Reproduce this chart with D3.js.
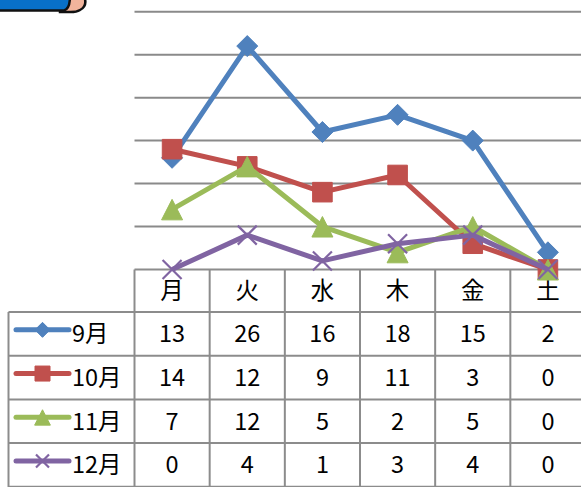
<!DOCTYPE html>
<html>
<head>
<meta charset="utf-8">
<script src="https://cdn.jsdelivr.net/npm/d3@7"></script>
<style>
  body { margin: 0; background: #fff; }
  svg { display: block; }
  text { font-family: "Noto Sans CJK JP", "Noto Sans", sans-serif; fill: #000; }
</style>
</head>
<body>
<div id="chart"></div>
<script>
// Data
var days = ['月', '火', '水', '木', '金', '土'];
var seriesNames = ['9月', '10月', '11月', '12月'];
var sep = [13, 26, 16, 18, 15, 2];
var oct = [14, 12, 9, 11, 3, 0];
var nov = [7, 12, 5, 2, 5, 0];
var dec = [0, 4, 1, 3, 4, 0];
var gridTicks = [0, 5, 10, 15, 20, 25, 30];

var width = 581,
    height = 487;

var colors = ['#4F81BD', '#C0504D', '#9BBB59', '#8064A2'];
var markerKinds = ['diamond', 'square', 'triangle', 'x'];
var allSeries = [sep, oct, nov, dec];

var svg = d3.select('#chart').append('svg')
    .attr('width', width)
    .attr('height', height);

// Scales
var x = d3.scaleBand().domain(days).range([134.5, 585.5]);
var y = d3.scaleLinear().domain([0, 30]).range([269.5, 11.7]);

var tableTop = 269.5,
    headerH = 42.5,
    rowH = 43.7,
    legendLeft = 8.5,
    fontSize = 23.5;

// Decorative clip-art at the top left (cropped in the original)
svg.append('path')
    .attr('d', 'M60,-4 L84,-4 Q88,6 80,10 Q76,12.5 68,12 L60,12 Z')
    .attr('fill', '#F2B49C')
    .attr('stroke', '#111')
    .attr('stroke-width', 2.5);
svg.append('path')
    .attr('d', 'M-5,-4 L70,-4 Q70,9 64,10.5 L-5,10.5 Z')
    .attr('fill', '#0870C8')
    .attr('stroke', '#111')
    .attr('stroke-width', 2.5);

// Gridlines
svg.append('g').selectAll('line')
    .data(gridTicks.slice(1))
  .enter().append('line')
    .attr('x1', 134.5)
    .attr('x2', width)
    .attr('y1', function(d) { return y(d); })
    .attr('y2', function(d) { return y(d); })
    .attr('stroke', '#8A8A8A')
    .attr('stroke-width', 2);

// Data table grid
var grid = svg.append('g').attr('stroke', '#8C8C8C').attr('stroke-width', 2);
var tableBottom = tableTop + headerH + rowH * 4 + 2;

// horizontal lines
grid.append('line').attr('x1', 134.5).attr('x2', width).attr('y1', tableTop).attr('y2', tableTop);
d3.range(5).forEach(function(i) {
  var yy = tableTop + headerH + rowH * i;
  grid.append('line').attr('x1', legendLeft).attr('x2', width).attr('y1', yy).attr('y2', yy);
});
// vertical lines
grid.append('line').attr('x1', legendLeft).attr('x2', legendLeft)
    .attr('y1', tableTop + headerH).attr('y2', tableBottom);
days.forEach(function(d) {
  var xx = x(d);
  grid.append('line').attr('x1', xx).attr('x2', xx).attr('y1', tableTop).attr('y2', tableBottom);
});

// Header labels
svg.append('g').selectAll('text')
    .data(days)
  .enter().append('text')
    .attr('x', function(d) { return x(d) + x.bandwidth() / 2; })
    .attr('y', tableTop + headerH / 2)
    .attr('dy', '0.36em')
    .attr('text-anchor', 'middle')
    .attr('font-size', fontSize)
    .text(function(d) { return d; });

// Markers
function markerPath(kind, s) {
  if (kind === 'diamond') return 'M0,' + (-s) + 'L' + s + ',0L0,' + s + 'L' + (-s) + ',0Z';
  if (kind === 'square') return 'M' + (-s) + ',' + (-s) + 'H' + s + 'V' + s + 'H' + (-s) + 'Z';
  if (kind === 'triangle') return 'M0,' + (-s) + 'L' + (s * 1.05) + ',' + (s * 1.05) + 'L' + (-s * 1.05) + ',' + (s * 1.05) + 'Z';
  return 'M' + (-s) + ',' + (-s) + 'L' + s + ',' + s + 'M' + s + ',' + (-s) + 'L' + (-s) + ',' + s;
}
var markerSize = [10.5, 9.8, 10, 9.5];

var line = d3.line()
    .x(function(d, i) { return x(days[i]) + x.bandwidth() / 2; })
    .y(function(d) { return y(d); });

allSeries.forEach(function(vals, si) {
  var g = svg.append('g');
  g.append('path')
      .datum(vals)
      .attr('d', line)
      .attr('fill', 'none')
      .attr('stroke', colors[si])
      .attr('stroke-width', 5)
      .attr('stroke-linejoin', 'round');
  g.selectAll('path.mk')
      .data(vals)
    .enter().append('path')
      .attr('class', 'mk')
      .attr('transform', function(d, i) {
        return 'translate(' + (x(days[i]) + x.bandwidth() / 2) + ',' + y(d) + ')';
      })
      .attr('d', markerPath(markerKinds[si], markerSize[si]))
      .attr('fill', markerKinds[si] === 'x' ? 'none' : colors[si])
      .attr('stroke', colors[si])
      .attr('stroke-width', markerKinds[si] === 'x' ? 2.2 : 1);
});

// Table rows: legend key + values
allSeries.forEach(function(vals, si) {
  var rowTop = tableTop + headerH + rowH * si;
  var cy = rowTop + rowH / 2;
  var key = svg.append('g');
  key.append('line')
      .attr('x1', 16).attr('x2', 69)
      .attr('y1', cy - 4).attr('y2', cy - 4)
      .attr('stroke', colors[si])
      .attr('stroke-width', 5)
      .attr('stroke-linecap', 'round');
  key.append('path')
      .attr('transform', 'translate(42.5,' + (cy - 4) + ')')
      .attr('d', markerPath(markerKinds[si], markerKinds[si] === 'x' ? 6.5 : 7.5))
      .attr('fill', markerKinds[si] === 'x' ? 'none' : colors[si])
      .attr('stroke', colors[si])
      .attr('stroke-width', markerKinds[si] === 'x' ? 2.2 : 1);
  svg.append('text')
      .attr('x', 72)
      .attr('y', cy)
      .attr('dy', '0.36em')
      .attr('font-size', fontSize)
      .text(seriesNames[si]);

  svg.append('g').selectAll('text')
      .data(vals)
    .enter().append('text')
      .attr('x', function(d, i) { return x(days[i]) + x.bandwidth() / 2; })
      .attr('y', cy)
      .attr('dy', '0.36em')
      .attr('text-anchor', 'middle')
      .attr('font-size', fontSize)
      .text(function(d) { return d; });
});
</script>
</body>
</html>
